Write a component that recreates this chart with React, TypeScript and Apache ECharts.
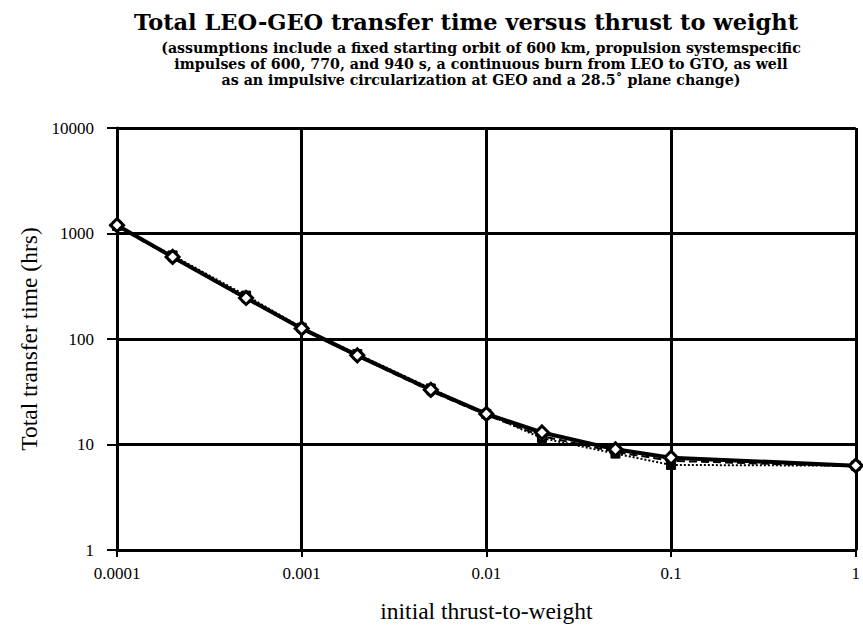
import React, { useEffect, useRef } from "react";
import * as echarts from "echarts";

const thrustToWeight = [0.0001, 0.0002, 0.0005, 0.001, 0.002, 0.005, 0.01, 0.02, 0.05, 0.1, 1];
const timeIsp600 = [1200, 600, 245, 126, 70, 33, 19.5, 13, 9, 7.5, 6.3];
const timeIsp770 = [1180, 620, 258, 128, 72, 34, 19.5, 11.5, 8.2, 6.4, 6.3];
const timeIsp940 = [1170, 590, 240, 124, 69, 32, 19, 12, 8.5, 7, 6.2];

const xTickLabels = ["0.0001", "0.001", "0.01", "0.1", "1"];
const yTickLabels = ["1", "10", "100", "1000", "10000"];

const titleText = "Total LEO-GEO transfer time versus thrust to weight";
const subtitleLines = [
  "(assumptions include a fixed starting orbit of 600 km, propulsion systemspecific",
  "impulses of 600, 770, and 940 s, a continuous burn from LEO to GTO, as well",
  "as an impulsive circularization at GEO and a 28.5\u02da plane change)",
];
const xAxisName = "initial thrust-to-weight";
const yAxisName = "Total transfer time (hrs)";

const FONT = "'Liberation Serif', 'Times New Roman', serif";
const TITLE_FONT = "'DejaVu Serif', serif";

export default function App() {
  const ref = useRef<HTMLDivElement>(null);
  useEffect(() => {
    if (!ref.current) return;
    const chart = echarts.init(ref.current, null, { renderer: "svg" });
    const pair = (ys: number[]) => thrustToWeight.map((x, i) => [x, ys[i]]);
    const pick = (labels: string[]) => (v: number) => {
      const e = Math.round(Math.log10(v));
      const found = labels.find((l) => Math.round(Math.log10(parseFloat(l))) === e);
      return found ?? String(v);
    };
    chart.setOption({
      animation: false,
      backgroundColor: "#ffffff",
      title: [
        {
          text: titleText,
          left: 461,
          textAlign: "center",
          top: 5,
          textStyle: { fontFamily: TITLE_FONT, fontWeight: "bold", fontSize: 22.5, color: "#000" },
        },
        {
          text: subtitleLines.join("\n"),
          left: 476,
          textAlign: "center",
          top: 35,
          textStyle: {
            fontFamily: TITLE_FONT,
            fontWeight: "bold",
            fontSize: 14.2,
            lineHeight: 16,
            color: "#000",
          },
        },
      ],
      grid: { left: 117, right: 2, top: 128, bottom: 77, containLabel: false },
      xAxis: {
        type: "log",
        logBase: 10,
        min: 0.0001,
        max: 1,
        name: xAxisName,
        nameLocation: "middle",
        nameGap: 49,
        nameTextStyle: { fontFamily: FONT, fontSize: 23.5, color: "#000" },
        axisLine: { show: true, lineStyle: { color: "#000", width: 3 } },
        axisTick: { show: true, length: 7, lineStyle: { color: "#000", width: 2 } },
        axisLabel: {
          fontFamily: FONT,
          fontSize: 17,
          color: "#000",
          margin: 15,
          formatter: pick(xTickLabels),
        },
        splitLine: { show: true, lineStyle: { color: "#000", width: 3 } },
        minorTick: { show: false },
      },
      yAxis: {
        type: "log",
        logBase: 10,
        min: 1,
        max: 10000,
        name: yAxisName,
        nameLocation: "middle",
        nameGap: 75,
        nameTextStyle: { fontFamily: FONT, fontSize: 23.5, color: "#000" },
        axisLine: { show: true, lineStyle: { color: "#000", width: 3 } },
        axisTick: { show: true, length: 10, lineStyle: { color: "#000", width: 2 } },
        axisLabel: {
          fontFamily: FONT,
          fontSize: 17,
          color: "#000",
          margin: 23,
          formatter: pick(yTickLabels),
        },
        splitLine: { show: true, lineStyle: { color: "#000", width: 3 } },
      },
      series: [
        {
          name: "Isp 770 s",
          type: "line",
          data: pair(timeIsp770),
          lineStyle: { color: "#000", width: 2, type: "dotted" },
          symbol: "rect",
          symbolSize: 9,
          itemStyle: { color: "#000", borderColor: "#000" },
          z: 2,
        },
        {
          name: "Isp 940 s",
          type: "line",
          data: pair(timeIsp940),
          lineStyle: { color: "#000", width: 2, type: "dashed" },
          symbol: "circle",
          symbolSize: 9,
          itemStyle: { color: "#fff", borderColor: "#000", borderWidth: 2 },
          z: 3,
        },
        {
          name: "Isp 600 s",
          type: "line",
          data: pair(timeIsp600),
          lineStyle: { color: "#000", width: 4 },
          symbol: "diamond",
          symbolSize: 13,
          itemStyle: { color: "#fff", borderColor: "#000", borderWidth: 3 },
          z: 4,
        },
      ],
    });
    return () => chart.dispose();
  }, []);
  return <div ref={ref} style={{ width: 863, height: 628, position: "absolute", left: 0, top: 0 }} />;
}
